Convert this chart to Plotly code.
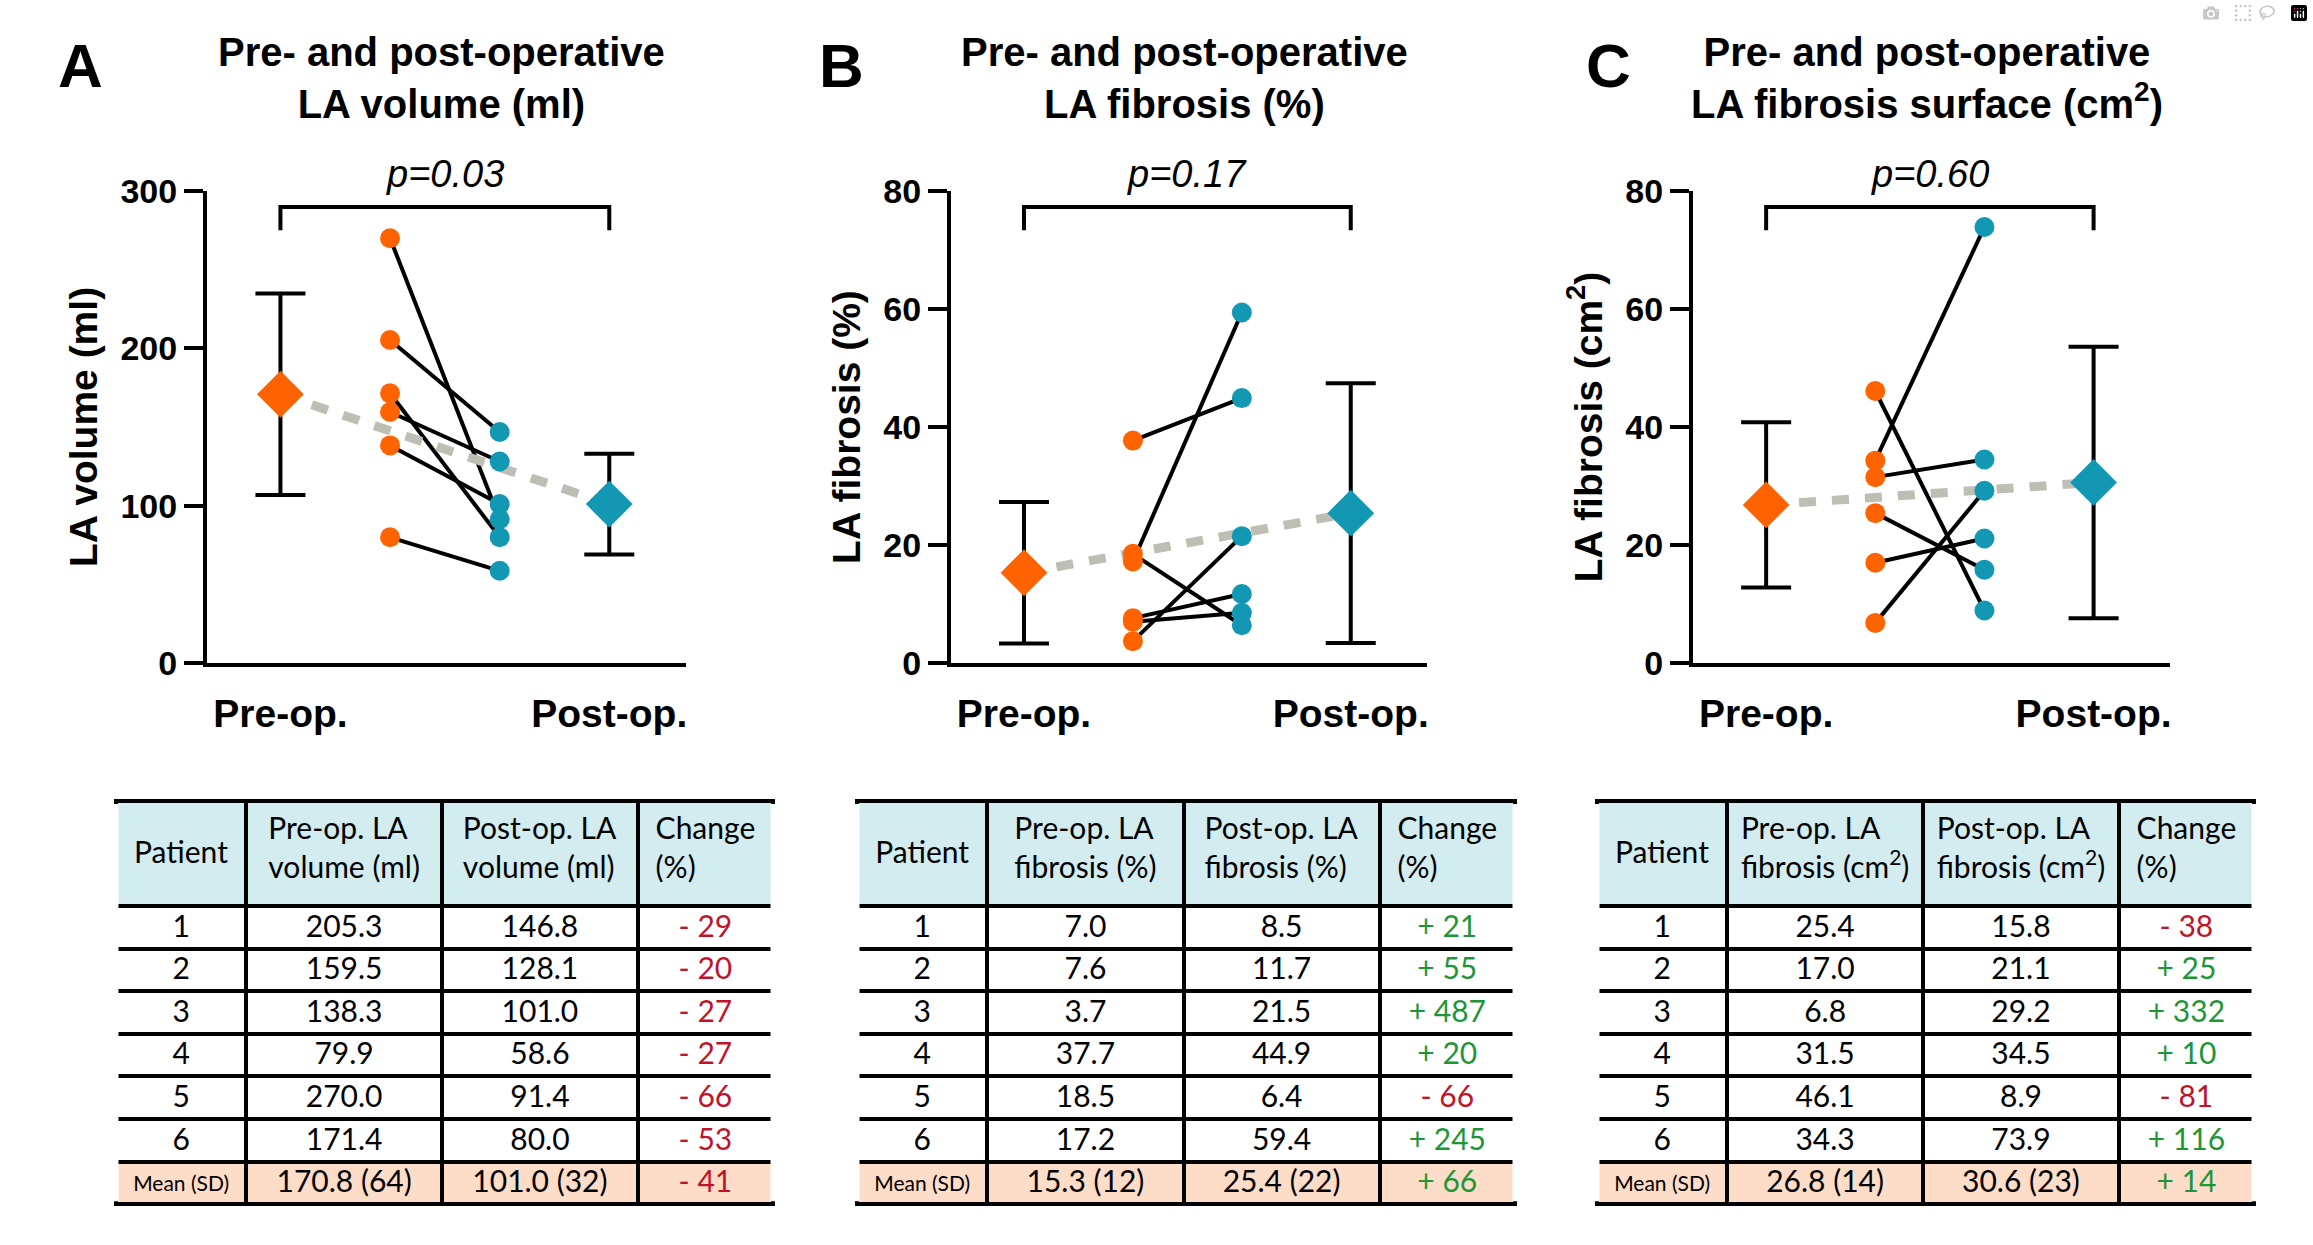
import plotly.graph_objects as go

# ---------------- data ----------------
patients = ["1", "2", "3", "4", "5", "6"]

vol_pre = [205.3, 159.5, 138.3, 79.9, 270.0, 171.4]
vol_post = [146.8, 128.1, 101.0, 58.6, 91.4, 80.0]
vol_mean = [170.8, 101.0]
vol_sd = [64, 32]
vol_change = [-29, -20, -27, -27, -66, -53]
vol_change_mean = -41

fib_pre = [7.0, 7.6, 3.7, 37.7, 18.5, 17.2]
fib_post = [8.5, 11.7, 21.5, 44.9, 6.4, 59.4]
fib_mean = [15.3, 25.4]
fib_sd = [12, 22]
fib_change = [21, 55, 487, 20, -66, 245]
fib_change_mean = 66

surf_pre = [25.4, 17.0, 6.8, 31.5, 46.1, 34.3]
surf_post = [15.8, 21.1, 29.2, 34.5, 8.9, 73.9]
surf_mean = [26.8, 30.6]
surf_sd = [14, 23]
surf_change = [-38, 25, 332, 10, -81, 116]
surf_change_mean = 14

p_values = ["p=0.03", "p=0.17", "p=0.60"]
panel_letters = ["A", "B", "C"]
panel_titles = [
    "Pre- and post-operative<br>LA volume (ml)",
    "Pre- and post-operative<br>LA fibrosis (%)",
    "Pre- and post-operative<br>LA fibrosis surface (cm<sup>2</sup>)",
]
y_titles = ["LA volume (ml)", "LA fibrosis (%)", "LA fibrosis (cm<sup>2</sup>)"]
y_tickvals = [[0, 100, 200, 300], [0, 20, 40, 60, 80], [0, 20, 40, 60, 80]]
y_max = [300, 80, 80]
group_labels = ["Pre-op.", "Post-op."]
patient_header = "<sub>\u00a0</sub><br>Patient"
table_headers = [
    [patient_header, "Pre-op. LA<br>volume (ml)", "Post-op. LA<br>volume (ml)", "Change<br>(%)"],
    [patient_header, "Pre-op. LA<br>fibrosis (%)", "Post-op. LA<br>fibrosis (%)", "Change<br>(%)"],
    [patient_header, "Pre-op. LA<br>fibrosis (cm<sup>2</sup>)", "Post-op. LA<br>fibrosis (cm<sup>2</sup>)", "Change<br>(%)"],
]
mean_label = "Mean\u00a0(SD)"

panels = [
    (vol_pre, vol_post, vol_mean, vol_sd, vol_change, vol_change_mean),
    (fib_pre, fib_post, fib_mean, fib_sd, fib_change, fib_change_mean),
    (surf_pre, surf_post, surf_mean, surf_sd, surf_change, surf_change_mean),
]

# ---------------- style ----------------
W, H = 2313, 1245
ORANGE = "#FF6300"
TEAL = "#1398B3"
GRAY = "#BEBEB4"
RED = "#C0142C"
GREEN = "#1E9638"
HEADER_FILL = "#D2ECF0"
MEAN_FILL = "#FDDCC8"
ARIAL = "Liberation Sans, Arial, sans-serif"
TFONT = "Lato, Open Sans, sans-serif"

X_PRE_MEAN, X_PRE, X_POST, X_POST_MEAN = 0, 1, 2, 3
axis_left_px = [207, 951, 1693]
axis_right_px = [686, 1427, 2170]
table_left_px = [116, 857, 1597]
table_right_px = [773, 1515, 2254]
table_top_px = 801
header_h, row_h = 105, 42.6
y_top_px, y_bot_px = 191, 663
x_lo, x_hi = -0.67, 3.70
letter_x_px = [80, 841, 1608]

fig = go.Figure()
layout = dict(
    width=W, height=H,
    margin=dict(l=0, r=0, t=0, b=0, pad=0, autoexpand=False),
    paper_bgcolor="white", plot_bgcolor="white", showlegend=False,
    annotations=[], shapes=[],
)

for i, (pre, post, mean, sd, change, change_mean) in enumerate(panels):
    sfx = "" if i == 0 else str(i + 1)
    xa, ya = "x" + sfx, "y" + sfx
    ymax = y_max[i]

    # individual patient lines
    lx, ly = [], []
    for a, b in zip(pre, post):
        lx += [X_PRE, X_POST, None]
        ly += [a, b, None]
    fig.add_trace(go.Scatter(x=lx, y=ly, mode="lines", xaxis=xa, yaxis=ya,
                             line=dict(color="black", width=4), cliponaxis=False,
                             hoverinfo="skip"))
    # dashed mean line
    fig.add_trace(go.Scatter(x=[X_PRE_MEAN, X_POST_MEAN], y=mean, mode="lines",
                             xaxis=xa, yaxis=ya, cliponaxis=False,
                             line=dict(color=GRAY, width=9, dash="17px,16px")))
    # dots
    fig.add_trace(go.Scatter(x=[X_PRE] * len(pre), y=pre, mode="markers",
                             xaxis=xa, yaxis=ya, cliponaxis=False,
                             marker=dict(color=ORANGE, size=20, line=dict(width=0))))
    fig.add_trace(go.Scatter(x=[X_POST] * len(post), y=post, mode="markers",
                             xaxis=xa, yaxis=ya, cliponaxis=False,
                             marker=dict(color=TEAL, size=20, line=dict(width=0))))
    # means with SD
    for xm, m, s, c in [(X_PRE_MEAN, mean[0], sd[0], ORANGE),
                        (X_POST_MEAN, mean[1], sd[1], TEAL)]:
        fig.add_trace(go.Scatter(
            x=[xm], y=[m], mode="markers", xaxis=xa, yaxis=ya, cliponaxis=False,
            marker=dict(symbol="diamond", color=c, size=36, line=dict(width=0)),
            error_y=dict(type="data", array=[s], visible=True, color="black",
                         thickness=4, width=25)))
    # significance bracket
    yb_top, yb_leg = ymax * 0.966, ymax * 0.917
    fig.add_trace(go.Scatter(x=[X_PRE_MEAN, X_PRE_MEAN, X_POST_MEAN, X_POST_MEAN],
                             y=[yb_leg, yb_top, yb_top, yb_leg], mode="lines",
                             xaxis=xa, yaxis=ya, cliponaxis=False,
                             line=dict(color="black", width=4)))

    x0 = axis_left_px[i] / W
    x1 = axis_right_px[i] / W
    layout["xaxis" + sfx] = dict(
        domain=[x0, x1], range=[x_lo, x_hi], anchor=ya, automargin=False,
        showline=True, linewidth=4, linecolor="black", mirror=False,
        showgrid=False, zeroline=False,
        tickvals=[X_PRE_MEAN, X_POST_MEAN], ticktext=group_labels,
        ticks="outside", ticklen=13, tickcolor="rgba(0,0,0,0)",
        tickfont=dict(family=ARIAL, size=39, color="black", weight="bold"),
        fixedrange=True,
    )
    layout["yaxis" + sfx] = dict(
        domain=[1 - y_bot_px / H, 1 - y_top_px / H], range=[0, ymax], anchor=xa,
        automargin=False,
        showline=True, linewidth=4, linecolor="black",
        showgrid=False, zeroline=False,
        tickvals=y_tickvals[i], ticks="outside", ticklen=19, tickwidth=4,
        tickcolor="black",
        tickfont=dict(family=ARIAL, size=34, color="black", weight="bold"),
        title=dict(text=y_titles[i], standoff=12,
                   font=dict(family=ARIAL, size=39, color="black", weight="bold")),
        fixedrange=True,
    )

    # p-value
    layout["annotations"].append(dict(
        text=p_values[i], x=(X_PRE_MEAN + X_POST_MEAN) / 2, xref=xa,
        y=1.035, yref=ya + " domain", yanchor="middle", showarrow=False,
        font=dict(family=ARIAL, size=38, color="black", style="italic")))
    # panel title
    layout["annotations"].append(dict(
        text=panel_titles[i], x=(X_PRE_MEAN + X_POST_MEAN) / 2 - 0.03, xref=xa,
        y=1 - 28 / H, yref="paper", yanchor="top", showarrow=False,
        font=dict(family=ARIAL, size=40, color="black", weight="bold")))
    # panel letter
    layout["annotations"].append(dict(
        text=panel_letters[i], x=letter_x_px[i] / W, xref="paper", xanchor="center",
        y=1 - 66 / H, yref="paper", yanchor="middle", showarrow=False,
        font=dict(family=ARIAL, size=62, color="black", weight="bold")))

    # table
    fmt = lambda v: f"{v:.1f}"
    chg = lambda c: f"- {abs(c)}" if c < 0 else f"+ {c}"
    all_changes = change + [change_mean]
    col_vals = [
        patients + [f"<sub>{mean_label}</sub>"],
        [fmt(v) for v in pre] + [f"{mean[0]:.1f} ({sd[0]})"],
        [fmt(v) for v in post] + [f"{mean[1]:.1f} ({sd[1]})"],
        [chg(c) for c in all_changes],
    ]
    n = len(patients) + 1
    fills = [["white"] * (n - 1) + [MEAN_FILL] for _ in range(4)]
    fcolors = [["black"] * n, ["black"] * n, ["black"] * n,
               [RED if c < 0 else GREEN for c in all_changes]]
    fig.add_trace(go.Table(
        domain=dict(x=[table_left_px[i] / W, table_right_px[i] / W],
                    y=[0.0, 1 - table_top_px / H]),
        columnwidth=[131, 197, 197, 136],
        header=dict(values=table_headers[i], height=header_h, align="center",
                    fill=dict(color=HEADER_FILL),
                    line=dict(color="black", width=4),
                    font=dict(family=TFONT, size=30, color="black")),
        cells=dict(values=col_vals, height=row_h, align="center",
                   fill=dict(color=fills),
                   line=dict(color="black", width=4),
                   font=dict(family=TFONT, size=30, color=fcolors)),
    ))
    # the reference table has no outer vertical borders: mask them
    tb_px = table_top_px + header_h + n * row_h
    for ex in (table_left_px[i], table_right_px[i]):
        layout["shapes"].append(dict(
            type="line", xref="paper", yref="paper", layer="above",
            x0=ex / W, x1=ex / W,
            y0=1 - (table_top_px + 3) / H, y1=1 - (tb_px - 3) / H,
            line=dict(color="white", width=5)))

fig.update_layout(**layout)
fig.write_html("out.html", post_script="document.body.style.margin='0';")
